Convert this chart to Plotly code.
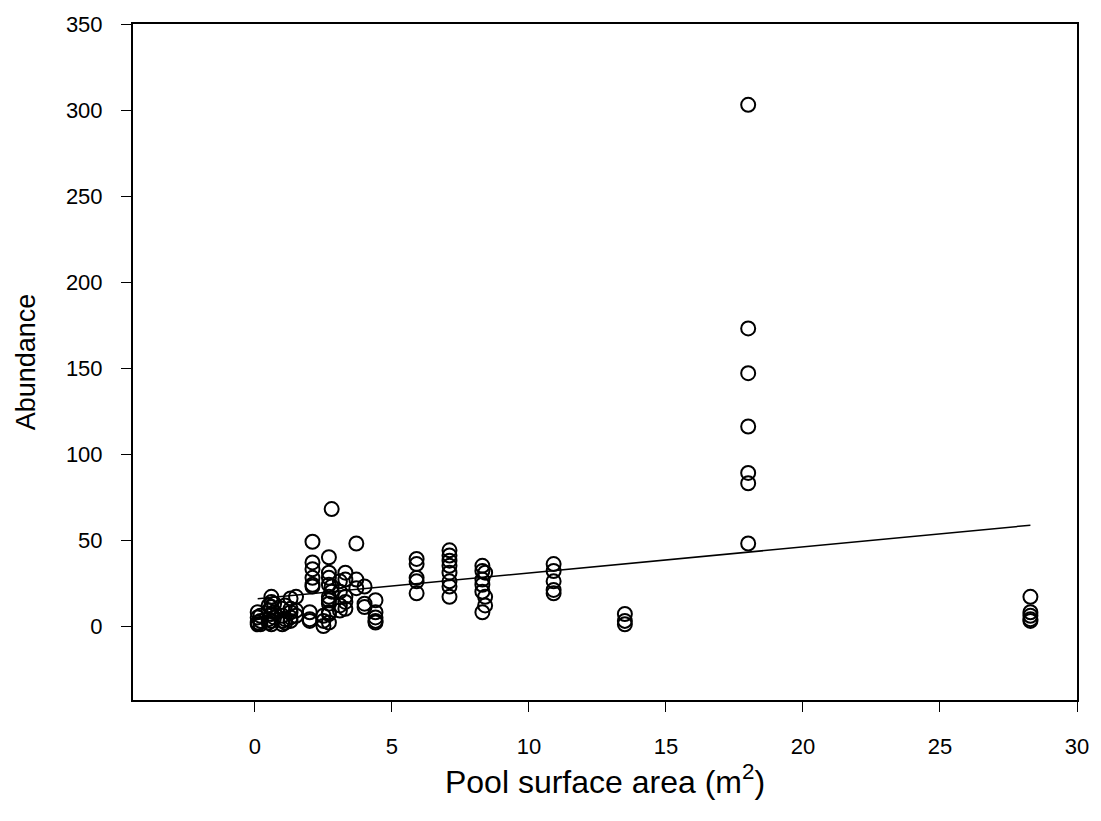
import plotly.graph_objects as go

# Abundance per pool, grouped by pool surface area (m^2)
area_0_1 = [0.1] * 4
abund_0_1 = [2, 5, 8, 1]
area_0_2 = [0.2] * 3
abund_0_2 = [3, 1, 6]
area_0_5 = [0.5] * 4
abund_0_5 = [9, 4, 2, 12]
area_0_6 = [0.6] * 6
abund_0_6 = [17, 14, 11, 7, 3, 1]
area_0_7 = [0.7] * 3
abund_0_7 = [8, 5, 13]
area_1_0 = [1.0] * 4
abund_1_0 = [10, 6, 3, 1]
area_1_1 = [1.1] * 3
abund_1_1 = [12, 4, 2]
area_1_3 = [1.3] * 5
abund_1_3 = [16, 10, 5, 3, 8]
area_1_5 = [1.5] * 3
abund_1_5 = [17, 9, 6]
area_2_0 = [2.0] * 3
abund_2_0 = [8, 4, 3]
area_2_1 = [2.1] * 6
abund_2_1 = [49, 37, 33, 28, 24, 23]
area_2_5 = [2.5] * 3
abund_2_5 = [0, 3, 6]
area_2_7 = [2.7] * 10
abund_2_7 = [40, 31, 28, 24, 17, 15, 13, 8, 7, 2]
area_2_8 = [2.8] * 3
abund_2_8 = [68, 23, 20]
area_3_1 = [3.1] * 4
abund_3_1 = [26, 20, 12, 9]
area_3_3 = [3.3] * 5
abund_3_3 = [31, 27, 17, 10, 14]
area_3_7 = [3.7] * 3
abund_3_7 = [48, 27, 22]
area_4_0 = [4.0] * 3
abund_4_0 = [23, 13, 11]
area_4_4 = [4.4] * 5
abund_4_4 = [15, 8, 5, 3, 2]
area_5_9 = [5.9] * 5
abund_5_9 = [39, 36, 28, 26, 19]
area_7_1 = [7.1] * 8
abund_7_1 = [44, 41, 38, 35, 31, 26, 23, 17]
area_8_3 = [8.3] * 6
abund_8_3 = [35, 32, 27, 24, 20, 8]
area_8_4 = [8.4] * 3
abund_8_4 = [31, 17, 12]
area_10_9 = [10.9] * 5
abund_10_9 = [36, 32, 26, 21, 19]
area_13_5 = [13.5] * 3
abund_13_5 = [7, 3, 1]
area_18_0 = [18.0] * 7
abund_18_0 = [303, 173, 147, 116, 89, 83, 48]
area_28_3 = [28.3] * 5
abund_28_3 = [17, 8, 6, 4, 3]

# Linear regression line endpoints
fit_x = [0.1, 28.3]
fit_y = [15.8, 58.6]

# Axis ticks
x_ticks = [0, 5, 10, 15, 20, 25, 30]
y_ticks = [0, 50, 100, 150, 200, 250, 300, 350]

groups = [
    (area_0_1, abund_0_1), (area_0_2, abund_0_2), (area_0_5, abund_0_5),
    (area_0_6, abund_0_6), (area_0_7, abund_0_7), (area_1_0, abund_1_0),
    (area_1_1, abund_1_1), (area_1_3, abund_1_3), (area_1_5, abund_1_5),
    (area_2_0, abund_2_0), (area_2_1, abund_2_1), (area_2_5, abund_2_5),
    (area_2_7, abund_2_7), (area_2_8, abund_2_8), (area_3_1, abund_3_1),
    (area_3_3, abund_3_3), (area_3_7, abund_3_7), (area_4_0, abund_4_0),
    (area_4_4, abund_4_4), (area_5_9, abund_5_9), (area_7_1, abund_7_1),
    (area_8_3, abund_8_3), (area_8_4, abund_8_4), (area_10_9, abund_10_9),
    (area_13_5, abund_13_5), (area_18_0, abund_18_0), (area_28_3, abund_28_3),
]
xs = [x for gx, gy in groups for x in gx]
ys = [y for gx, gy in groups for y in gy]

fig = go.Figure()
fig.add_trace(go.Scatter(
    x=fit_x, y=fit_y, mode="lines",
    line=dict(color="black", width=1.5),
    showlegend=False, hoverinfo="skip",
))
fig.add_trace(go.Scatter(
    x=xs, y=ys, mode="markers",
    marker=dict(symbol="circle-open", size=14, color="black",
                line=dict(color="black", width=2)),
    showlegend=False,
))

font_family = "Liberation Sans, Arial, sans-serif"
fig.update_layout(
    width=1101, height=821,
    margin=dict(l=133, r=23, t=18, b=121),
    paper_bgcolor="white", plot_bgcolor="white",
    font=dict(family=font_family, color="black"),
    xaxis=dict(
        range=[-4.45, 30], tickvals=x_ticks, ticktext=[str(v) for v in x_ticks],
        showgrid=False, zeroline=False,
        showline=True, linecolor="black", linewidth=2, mirror=True,
        ticks="outside", ticklen=10, tickwidth=1.2, tickcolor="black",
        ticklabelstandoff=16,
        tickfont=dict(size=22, family=font_family),
        title=dict(text="Pool surface area (m<sup>2</sup>)",
                   font=dict(size=32, family=font_family), standoff=0),
    ),
    yaxis=dict(
        range=[-43, 350], tickvals=y_ticks, ticktext=[str(v) for v in y_ticks],
        showgrid=False, zeroline=False,
        showline=True, linecolor="black", linewidth=2, mirror=True,
        ticks="outside", ticklen=10, tickwidth=1.2, tickcolor="black",
        ticklabelstandoff=14,
        tickfont=dict(size=22, family=font_family),
        title=dict(text="Abundance", font=dict(size=27, family=font_family),
                   standoff=22),
    ),
)

fig.write_html("out.html")
